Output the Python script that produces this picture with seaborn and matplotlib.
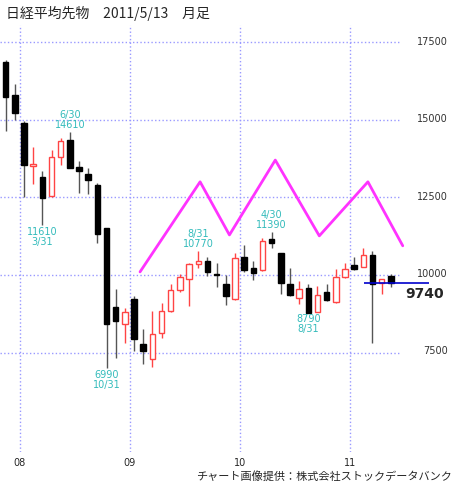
import numpy as np
import pandas as pd
import matplotlib
matplotlib.use("Agg")
import matplotlib.pyplot as plt
import seaborn as sns

# monthly candles, Nov 2007 .. May 2011
months = pd.period_range("2007-11", "2011-05", freq="M")
opens = [16850, 15780, 14910, 13500, 13170, 12550, 13810, 14360, 13490, 13260, 12910, 11520, 8970, 8420,
         9220, 7770, 7290, 8130, 8840, 9520, 9870, 10360, 10450, 10030, 9710, 9220, 10580, 10230, 10160,
         11160, 10710, 9710, 9260, 9580, 8810, 9450, 9130, 9940, 10320, 10260, 10650, 9740, 9970]
closes = [15720, 15230, 13550, 13560, 12490, 13810, 14330, 13460, 13360, 13070, 11320, 8420, 8510, 8800,
          7930, 7550, 8090, 8840, 9520, 9940, 10360, 10450, 10100, 10000, 9320, 10550, 10160, 10070, 11100,
          11030, 9740, 9350, 9550, 8770, 9350, 9190, 9940, 10190, 10190, 10650, 9710, 9870, 9740]
highs = [16910, 16140, 14970, 14130, 13360, 14040, 14420, 14610, 13680, 13460, 12950, 11520, 9550, 8930,
         9320, 8260, 8840, 9100, 9710, 10030, 10390, 10770, 10580, 10390, 10000, 10710, 10970, 10450, 11200,
         11390, 10710, 10230, 9810, 9710, 9640, 9710, 10190, 10390, 10580, 10870, 10770, 9870, 10030]
lows = [14650, 15000, 12520, 12940, 11610, 12500, 13550, 13460, 12650, 12620, 11030, 6990, 7320, 7800,
        7550, 7130, 7050, 7970, 8800, 9450, 9000, 10230, 9970, 9610, 9030, 9200, 10100, 9840, 10130,
        10870, 9390, 9330, 9060, 8790, 8800, 9170, 9100, 9900, 10160, 10260, 7800, 9390, 9600]

# pattern line (month index from Jan 2008 = 0)
zz_x = [12.65, 19.2, 22.4, 27.4, 32.2, 37.5, 41.3]
zz_y = [10100, 13000, 11290, 13700, 11260, 13000, 10940]

yticks = [7500, 10000, 12500, 15000, 17500]
year_labels = ["08", "09", "10", "11"]
last_price = 9740

notes = [  # month index, price, text, above?
    (5, 14610, "6/30\n14610", True),
    (2, 11610, "11610\n3/31", False),
    (9, 6990, "6990\n10/31", False),
    (19, 10770, "8/31\n10770", True),
    (27, 11390, "4/30\n11390", True),
    (31, 8790, "8790\n8/31", False),
]

sns.set_style("white")
plt.rcParams['font.family'] = ['Noto Sans CJK JP', 'DejaVu Sans']

fig = plt.figure(figsize=(4.58, 4.87), dpi=100)
ax = fig.add_axes([0, 1 - 452 / 487, 400 / 458, (452 - 25) / 487])

idx = np.arange(len(months)) - 2  # Jan 2008 -> 0
for x, o, c, h, l in zip(idx, opens, closes, highs, lows):
    up = c >= o
    col = "#ff4444" if up else "black"
    wick = "#ff4444" if up else "#555555"
    ax.vlines(x, l, min(o, c), color=wick, lw=1, zorder=2)
    ax.vlines(x, max(o, c), h, color=wick, lw=1, zorder=2)
    ax.bar(x, max(abs(c - o), 40), bottom=min(o, c), width=0.6,
           color="white" if up else "black", edgecolor=col, lw=1, zorder=3)

ax.plot(zz_x, zz_y, color="#ff33ff", lw=2, zorder=4, clip_on=False)
ax.hlines(last_price, 37.1, 44.2, color="#0000cc", lw=1.2, zorder=5, clip_on=False)
ax.text(41.6, last_price - 120, str(last_price), fontsize=10, fontweight="bold",
        va="top", ha="left", family="DejaVu Sans", clip_on=False)

for x, p, t, above in notes:
    ax.text(x, p + (60 if above else -60), t, color="#33bbbb", fontsize=7, ha="center",
            va="bottom" if above else "top", linespacing=1.0, family="DejaVu Sans")

ax.set_xlim(-2.62, 41.0)
ax.set_ylim(4300, 18050)
for yv in yticks:
    ax.axhline(yv, color="#9999ff", ls=":", lw=1, zorder=1)
    fig.text(448 / 458, 1 - (274 - (yv - 10000) / 32.3) / 487, str(yv), fontsize=7,
             ha="right", va="center", color="#333333", family="DejaVu Sans")
for k, lab in enumerate(year_labels):
    xv = 12 * k - 0.45
    ax.axvline(xv, color="#9999ff", ls=":", lw=1, zorder=1)
    ax.text(xv, 4100, lab, fontsize=7, ha="center", va="top", family="DejaVu Sans")
ax.set_xticks([])
ax.set_yticks([])
for s in ax.spines.values():
    s.set_visible(False)

fig.text(6 / 458, 1 - 13 / 487, "日経平均先物　2011/5/13　月足", fontsize=10, va="center", ha="left")
fig.text(452 / 458, 1 - 476 / 487, "チャート画像提供：株式会社ストックデータバンク", fontsize=8,
         va="center", ha="right", style="italic")

fig.savefig("out.png", dpi=100)
